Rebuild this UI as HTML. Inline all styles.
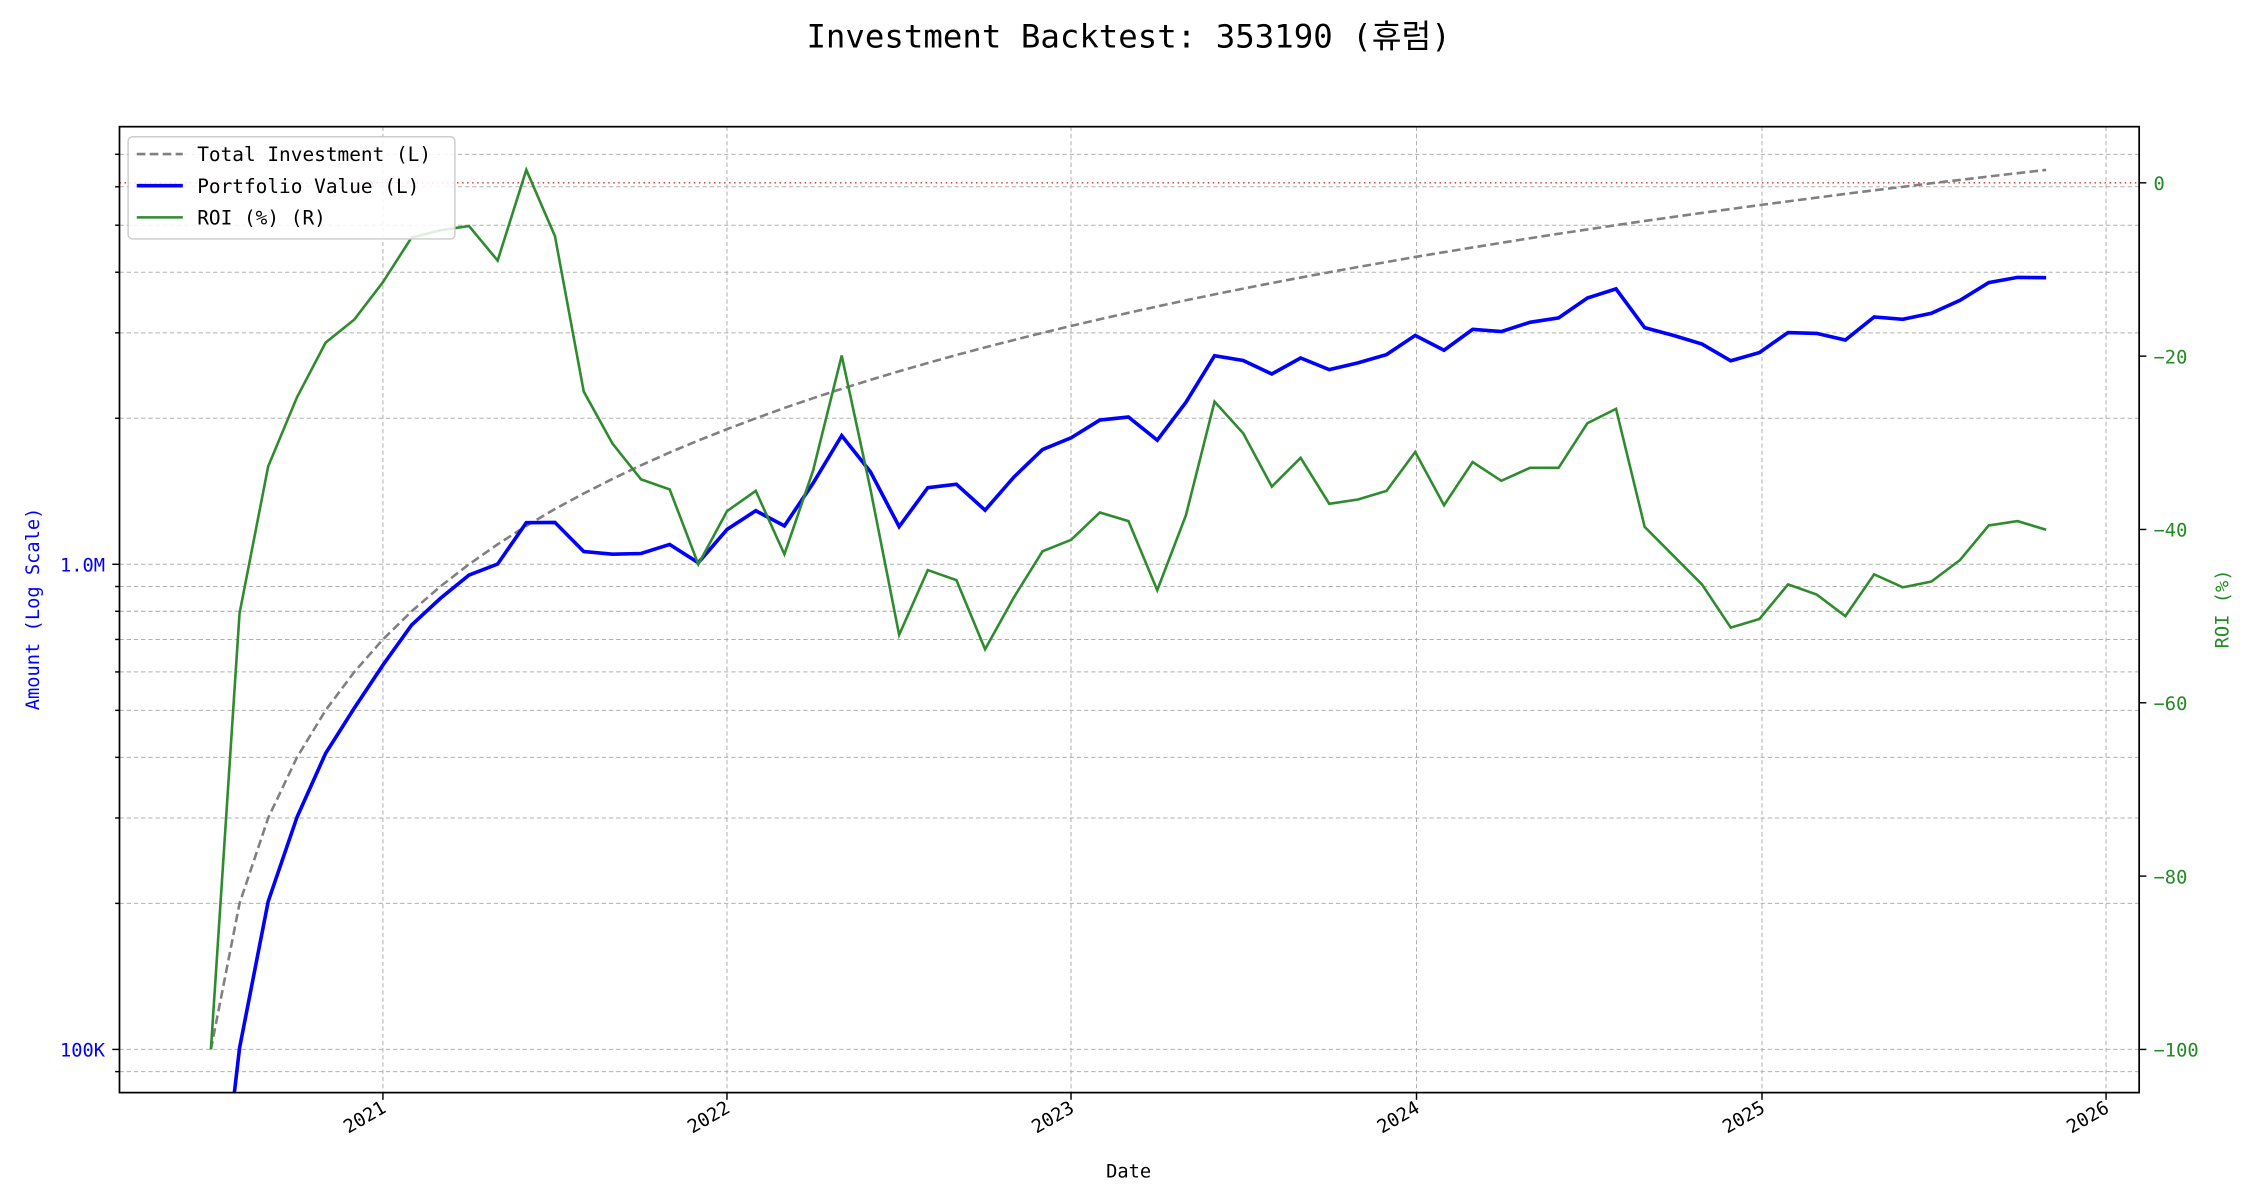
<!DOCTYPE html>
<html><head><meta charset="utf-8"><style>
html,body{margin:0;padding:0;background:#fff;width:2250px;height:1200px;overflow:hidden}
svg{display:block}
text{font-family:"DejaVu Sans Mono","Liberation Mono","Noto Sans CJK KR",monospace}
</style></head><body>
<svg id="s" width="2250" height="1200" viewBox="0 0 1563 833.6" xmlns="http://www.w3.org/2000/svg">
<defs><clipPath id="c"><rect x="83" y="88" width="1403" height="671"/></clipPath></defs>
<rect width="1563" height="834" fill="#fff"/>
<text x="784" y="33" font-size="22.5" text-anchor="middle" font-family="DejaVu Sans Mono, Noto Sans CJK KR, monospace">Investment Backtest: 353190 (휴럼)</text>
<g id="grid" stroke="#b0b0b0" stroke-width="0.7" stroke-dasharray="3,2" fill="none"></g>
<line x1="83" x2="1486" y1="127" y2="127" stroke="#d62728" stroke-width="1" stroke-dasharray="1,2.5"/>
<g clip-path="url(#c)">
<path id="inv" fill="none" stroke="#808080" stroke-width="1.8" stroke-dasharray="6,3"/>
<path id="pv" fill="none" stroke="#0000ff" stroke-width="2.5"/>
<path id="roi" fill="none" stroke="#2e8b2e" stroke-width="1.8"/>
</g>
<rect x="83" y="88" width="1403" height="671" fill="none" stroke="#000" stroke-width="1.2"/>
<g id="ticks" font-size="13"></g>
<text x="784" y="818" font-size="13" text-anchor="middle">Date</text>
<text transform="translate(27,423) rotate(-90)" font-size="13" text-anchor="middle" fill="#0000ff">Amount (Log Scale)</text>
<text transform="translate(1548,423) rotate(-90)" font-size="13" text-anchor="middle" fill="#228b22">ROI (%)</text>
<g>
<rect x="89" y="95" width="227" height="71" rx="3" fill="#fff" fill-opacity="0.85" stroke="#ccc" stroke-width="1"/>
<line x1="95" x2="127" y1="107" y2="107" stroke="#808080" stroke-width="1.8" stroke-dasharray="6,3"/>
<line x1="95" x2="127" y1="129" y2="129" stroke="#0000ff" stroke-width="2.5"/>
<line x1="95" x2="127" y1="151" y2="151" stroke="#2e8b2e" stroke-width="1.8"/>
<text x="137" y="112" font-size="13.5">Total Investment (L)</text>
<text x="137" y="134" font-size="13.5">Portfolio Value (L)</text>
<text x="137" y="156" font-size="13.5">ROI (%) (R)</text>
</g>
</svg>
<script>
var NS="http://www.w3.org/2000/svg";
function el(p,t,a,txt){var e=document.createElementNS(NS,t);for(var k in a)e.setAttribute(k,a[k]);if(txt!=null)e.textContent=txt;p.appendChild(e);return e;}
var grid=document.getElementById('grid'),ticks=document.getElementById('ticks');
function yl(v){return 392-337*Math.log10(v/1e6);}
function yr(r){return 127-6.02*r;}
var vals=[];
for(var d of [1e4,1e5,1e6]){for(var m=1;m<10;m++)vals.push(m*d);}
vals.forEach(function(v){var y=yl(v);if(y>88&&y<759){el(grid,'line',{x1:83,x2:1486,y1:y,y2:y});el(ticks,'line',{x1:83,x2:(v==1e5||v==1e6)?78:80,y1:y,y2:y,stroke:'#000','stroke-width':1});}});
var years=[[266,'2021'],[505,'2022'],[744,'2023'],[984,'2024'],[1224,'2025'],[1463,'2026']];
years.forEach(function(p){el(grid,'line',{x1:p[0],x2:p[0],y1:88,y2:759});el(ticks,'line',{x1:p[0],x2:p[0],y1:759,y2:764,stroke:'#000','stroke-width':1});
el(ticks,'text',{transform:'translate('+(p[0]+3)+',772) rotate(-30)','text-anchor':'end','font-size':13},p[1]);});
el(ticks,'text',{x:73,y:397,'text-anchor':'end',fill:'#0000ff'},'1.0M');
el(ticks,'text',{x:73,y:734,'text-anchor':'end',fill:'#0000ff'},'100K');
[0,-20,-40,-60,-80,-100].forEach(function(r){var y=yr(r);el(ticks,'line',{x1:1486,x2:1491,y1:y,y2:y,stroke:'#000','stroke-width':1});el(ticks,'text',{x:1496,y:y+5,fill:'#228b22'},r==0?'0':'\u2212'+(-r));});
var roiY=[729,426,324,276,238,222,196,165,160,157,181,118,164,272,308,333,340,392,355,341,385,327,247,340,441,396,403,451,415,383,375,356,362,410,358,279,301,338,318,350,347,341,314,351,321,334,325,325,294,284,366,386,406,436,430,406,413,428,399,408,404,389,365,362,368];
var x0=146.5,dx=19.92;
var inv='',pv='',ro='';
roiY.forEach(function(y,i){var x=x0+i*dx;var I=1e5*(i+1);var r=(y-127)/6.02*-1;var P=I*(1+r/100);
inv+=(i?'L':'M')+x.toFixed(1)+','+yl(I).toFixed(1);
var py=P<=1?900:yl(P);pv+=(i?'L':'M')+x.toFixed(1)+','+py.toFixed(1);
ro+=(i?'L':'M')+x.toFixed(1)+','+y;});
document.getElementById('inv').setAttribute('d',inv);
document.getElementById('pv').setAttribute('d',pv);
document.getElementById('roi').setAttribute('d',ro);
</script>
</body></html>
